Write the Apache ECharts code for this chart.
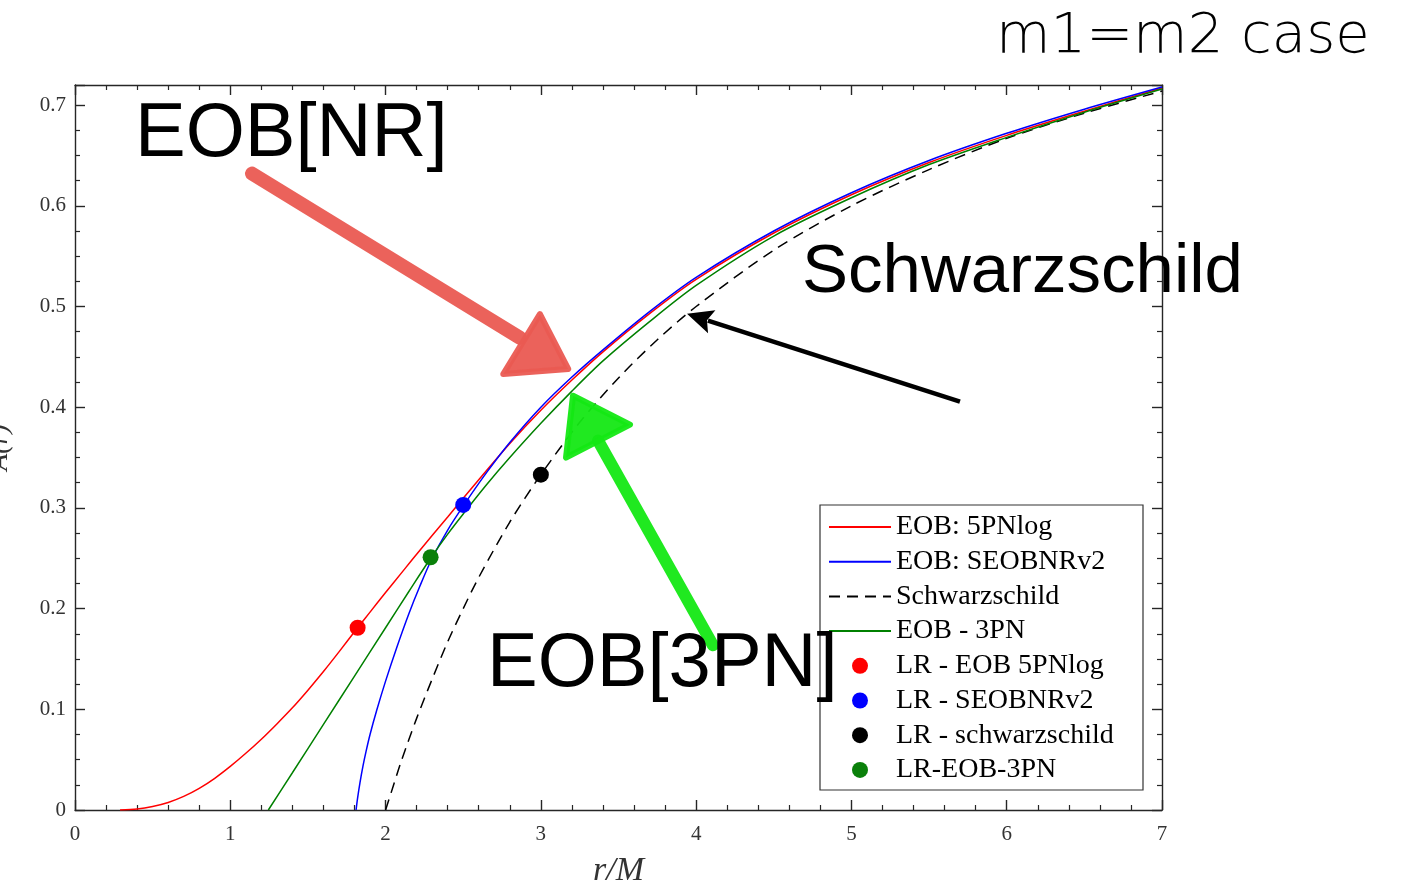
<!DOCTYPE html>
<html>
<head>
<meta charset="utf-8">
<title>m1=m2 case</title>
<script src="https://cdn.jsdelivr.net/npm/echarts@6/dist/echarts.min.js"></script>
<style>
    html, body { margin: 0; padding: 0; background: #fff; }
    #chart { width: 1403px; height: 885px; }
</style>
</head>
<body>
<div id="chart"></div>
<script>
// values, r/M on x and A(r) on y
var rRed = [0.29, 0.4, 0.5, 0.6, 0.7, 0.8, 0.9, 1.0, 1.1, 1.2, 1.3, 1.4, 1.5, 1.6, 1.7, 1.82, 1.9, 2.0, 2.1, 2.2, 2.4, 2.6, 2.8, 3.0, 3.2, 3.4, 3.7, 4.0, 4.5, 5.0, 5.5, 6.0, 6.5, 7.0];
var aRed = [0, 0.001, 0.0035, 0.0075, 0.0135, 0.0215, 0.0315, 0.0433, 0.0563, 0.0703, 0.0855, 0.1015, 0.119, 0.1375, 0.157, 0.181, 0.1965, 0.216, 0.235, 0.254, 0.291, 0.328, 0.364, 0.397, 0.427, 0.455, 0.493, 0.527, 0.573, 0.611, 0.643, 0.670, 0.694, 0.717];

var rBlue = [1.81, 1.82, 1.835, 1.855, 1.874, 1.9, 1.943, 2.0, 2.071, 2.15, 2.22, 2.297, 2.4, 2.505, 2.65, 2.8, 3.0, 3.2, 3.4, 3.7, 4.0, 4.5, 5.0, 5.5, 6.0, 6.5, 7.0];
var aBlue = [0, 0.012, 0.027, 0.044, 0.058, 0.075, 0.099, 0.128, 0.161, 0.195, 0.222, 0.249, 0.278, 0.303, 0.335, 0.365, 0.400, 0.430, 0.457, 0.495, 0.529, 0.575, 0.613, 0.645, 0.672, 0.696, 0.718];

var rSchw = [2.0, 2.05, 2.1, 2.2, 2.3, 2.4, 2.5, 2.6, 2.8, 3.0, 3.25, 3.5, 3.75, 4.0, 4.5, 5.0, 5.5, 6.0, 6.5, 7.0];
var aSchw = [0, 0.024, 0.048, 0.091, 0.130, 0.167, 0.200, 0.231, 0.286, 0.333, 0.385, 0.429, 0.467, 0.500, 0.556, 0.600, 0.636, 0.667, 0.692, 0.714];

var rGreen = [1.245, 1.4, 1.6, 1.8, 2.0, 2.15, 2.29, 2.4, 2.5, 2.65, 2.8, 3.0, 3.2, 3.4, 3.7, 4.0, 4.5, 5.0, 5.5, 6.0, 6.5, 7.0];
var aGreen = [0, 0.037, 0.085, 0.133, 0.181, 0.217, 0.250, 0.274, 0.294, 0.323, 0.350, 0.384, 0.416, 0.446, 0.485, 0.521, 0.570, 0.608, 0.641, 0.668, 0.693, 0.716];

// light-ring points
var lrNames = ['LR - EOB 5PNlog', 'LR - SEOBNRv2', 'LR - schwarzschild', 'LR-EOB-3PN'];
var lrR = [1.82, 2.50, 3.00, 2.29];
var lrA = [0.181, 0.303, 0.333, 0.251];
var lrColors = ['#ff0000', '#0000ff', '#000000', '#0a800a'];

var lineNames = ['EOB: 5PNlog', 'EOB: SEOBNRv2', 'Schwarzschild', 'EOB - 3PN'];
var xTicks = [0, 1, 2, 3, 4, 5, 6, 7];

// annotation arrows, in axis units
var nrArrow = { tail: [1.14, 0.632], end: [2.865, 0.469], head: [[2.994, 0.4925], [3.176, 0.438], [2.758, 0.433]] };
var pnArrow = { tail: [4.108, 0.1636], end: [3.368, 0.367], head: [[3.207, 0.4115], [3.574, 0.3827], [3.162, 0.350]] };
var schwArrow = { tail: [5.699, 0.4055], tip: [3.941, 0.4928] };

function zip(xs, ys) {
    return xs.map(function (x, i) { return [x, ys[i]]; });
}

var serif = '"Liberation Serif", "Times New Roman", serif';
var sans = '"Liberation Sans", Helvetica, Arial, sans-serif';
var axisColor = '#262626';

function xAxisOpt(pos, showLabels) {
    return {
        type: 'value', position: pos, min: 0, max: 7, interval: 1,
        axisLine: { show: true, onZero: false, lineStyle: { color: axisColor, width: 1.4 } },
        axisTick: { show: true, inside: true, length: 10, lineStyle: { color: axisColor, width: 1.4 } },
        minorTick: { show: true, splitNumber: 5, length: 5, lineStyle: { color: axisColor, width: 1.2 } },
        splitLine: { show: false },
        axisLabel: {
            show: showLabels, margin: 14, color: '#333', fontFamily: serif, fontSize: 21,
            formatter: function (v) { return xTicks.indexOf(v) >= 0 ? String(v) : ''; }
        },
        name: showLabels ? 'r/M' : '', nameLocation: 'middle', nameGap: 44,
        nameTextStyle: { fontFamily: serif, fontStyle: 'italic', fontSize: 34, color: '#333' }
    };
}

function yAxisOpt(pos, showLabels) {
    return {
        type: 'value', position: pos, min: 0, max: 0.72, interval: 0.1,
        axisLine: { show: true, onZero: false, lineStyle: { color: axisColor, width: 1.4 } },
        axisTick: { show: true, inside: true, length: 10, lineStyle: { color: axisColor, width: 1.4 } },
        minorTick: { show: true, splitNumber: 4, length: 5, lineStyle: { color: axisColor, width: 1.2 } },
        splitLine: { show: false },
        axisLabel: {
            show: showLabels, margin: 9, color: '#333', fontFamily: serif, fontSize: 21,
            formatter: function (v) { return v === 0 ? '0' : v.toFixed(1); }
        },
        name: showLabels ? 'A(r)' : '', nameLocation: 'middle', nameGap: 61, nameRotate: 90,
        nameTextStyle: { fontFamily: serif, fontStyle: 'italic', fontSize: 28, color: '#333' }
    };
}

var lineData = [zip(rRed, aRed), zip(rBlue, aBlue), zip(rSchw, aSchw), zip(rGreen, aGreen)];
var lineColors = ['#ff0000', '#0000ff', '#000000', '#008000'];

var series = lineNames.map(function (name, i) {
    return {
        name: name, type: 'line', data: lineData[i],
        smooth: 0.3, symbol: 'none',
        lineStyle: { color: lineColors[i], width: 1.5, type: i === 2 ? [11, 7] : 'solid' },
        itemStyle: { color: lineColors[i] },
        z: 3
    };
});

lrNames.forEach(function (name, i) {
    series.push({
        name: name, type: 'scatter', data: [[lrR[i], lrA[i]]],
        symbol: 'circle', symbolSize: 16,
        itemStyle: { color: lrColors[i], opacity: 1 },
        z: 5
    });
});

// line entries in the legend show only the stroke, no marker
var legendData = lineNames.map(function (n) {
    return { name: n, itemStyle: { opacity: 0 } };
}).concat(lrNames.map(function (n) { return { name: n }; }));

var chart = echarts.init(document.getElementById('chart'), null, { renderer: 'canvas' });

chart.setOption({
    animation: false,
    backgroundColor: '#fff',
    grid: { left: 75, right: 241, top: 85, bottom: 75, containLabel: false, outerBoundsMode: 'none' },
    xAxis: [xAxisOpt('bottom', true), xAxisOpt('top', false)],
    yAxis: [yAxisOpt('left', true), yAxisOpt('right', false)],
    legend: {
        orient: 'vertical', left: 823, top: 508, padding: 5,
        itemWidth: 62, itemHeight: 16, itemGap: 6.7,
        selectedMode: false, z: 10,
        data: legendData,
        textStyle: { fontFamily: serif, fontSize: 28, color: '#000' }
    },
    series: series
});

function px(p) {
    return chart.convertToPixel({ seriesIndex: 0 }, p);
}

function handArrow(a, color, width) {
    var head = a.head.map(px);
    return [
        {
            type: 'polyline', z: 15,
            shape: { points: [px(a.tail), px(a.end)] },
            style: { stroke: color, lineWidth: width, lineCap: 'round', fill: null }
        },
        {
            type: 'polygon', z: 15,
            shape: { points: head },
            style: { fill: color, stroke: color, lineWidth: 6, lineJoin: 'round' }
        }
    ];
}

function straightArrow(a) {
    var t = px(a.tail), p = px(a.tip);
    var dx = p[0] - t[0], dy = p[1] - t[1];
    var len = Math.sqrt(dx * dx + dy * dy);
    var ux = dx / len, uy = dy / len;
    var bx = p[0] - ux * 26, by = p[1] - uy * 26;
    var hw = 12;
    return [
        {
            type: 'line', z: 15,
            shape: { x1: t[0], y1: t[1], x2: bx + ux * 4, y2: by + uy * 4 },
            style: { stroke: '#000', lineWidth: 4.5 }
        },
        {
            type: 'polygon', z: 15,
            shape: { points: [p, [bx - uy * hw, by + ux * hw], [bx + ux * 5, by + uy * 5], [bx + uy * hw, by - ux * hw]] },
            style: { fill: '#000' }
        }
    ];
}

function label(text, x, y, font) {
    return {
        type: 'text', x: x, y: y, z: 20,
        style: { text: text, font: font, fill: '#000', verticalAlign: 'middle', align: 'left' }
    };
}

var graphics = [
    {
        type: 'rect', z: 3,
        shape: { x: 820, y: 505, width: 323, height: 285 },
        style: { fill: '#fff', stroke: '#333', lineWidth: 1.2 }
    }
];
graphics = graphics
    .concat(handArrow(nrArrow, 'rgba(234, 90, 82, 0.95)', 14))
    .concat(handArrow(pnArrow, 'rgba(20, 232, 20, 0.95)', 12))
    .concat(straightArrow(schwArrow))
    .concat([
        label('EOB[NR]', 135, 135, '76px ' + sans),
        label('Schwarzschild', 802, 273, '69px ' + sans),
        label('EOB[3PN]', 487, 665, '76px ' + sans),
        label('m1=m2 case', 996, 37, '200 56px "DejaVu Sans ExtraLight", "DejaVu Sans", sans-serif')
    ]);

chart.setOption({ graphic: graphics });

window.addEventListener('resize', function () {
    chart.resize();
});
</script>
</body>
</html>
